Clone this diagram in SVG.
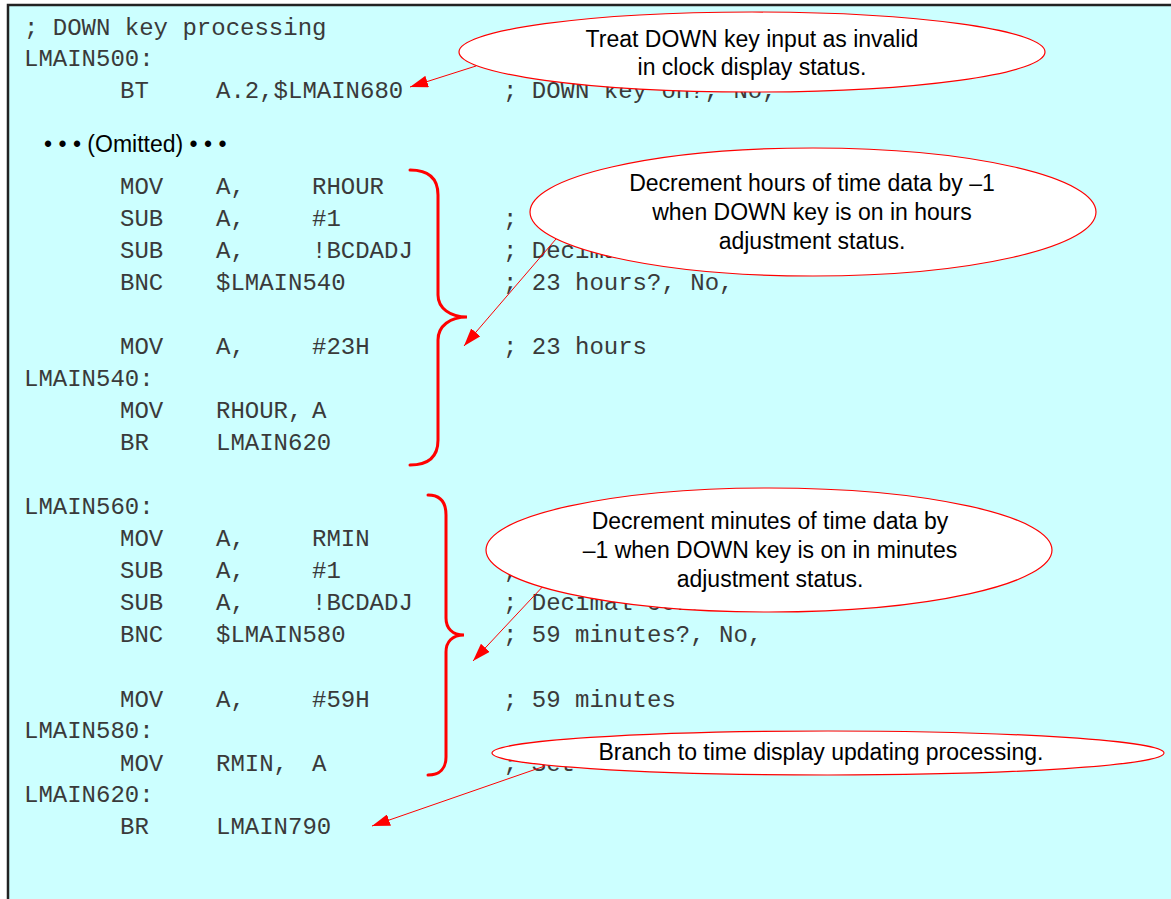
<svg xmlns="http://www.w3.org/2000/svg" width="1171" height="899" viewBox="0 0 1171 899">
<style>
.code{font-family:"Liberation Mono","Courier New",monospace;font-size:24px;fill:#3a3a3a;}
.note{font-family:"Liberation Sans",Arial,Helvetica,sans-serif;font-size:23px;fill:#000;text-anchor:middle;}
.om{font-family:"Liberation Sans",Arial,Helvetica,sans-serif;font-size:23px;fill:#000;}
.bubble{fill:#fff;stroke:#f00;stroke-width:1.2;}
.conn{stroke:#f00;stroke-width:1;fill:none;marker-end:url(#ah);}
.brace{stroke:#f00;stroke-width:3;fill:none;stroke-linecap:round;}
</style>
<defs>
<marker id="ah" viewBox="0 0 18 12" refX="18" refY="6" markerWidth="18" markerHeight="12" markerUnits="userSpaceOnUse" orient="auto">
<path d="M0,0 L18,6 L0,12 z" fill="#f00"/>
</marker>
</defs>
<rect x="8" y="5" width="1200" height="950" fill="#CCFFFF" stroke="#222" stroke-width="2.5"/>

<g id="code">
<text class="code" x="24" y="35">; DOWN key processing</text>
<text class="code" x="24" y="66">LMAIN500:</text>
<text class="code" y="98"><tspan x="120">BT</tspan><tspan x="216">A.2,$LMAIN680</tspan><tspan x="503">; DOWN key on?, No,</tspan></text>
<text class="om" x="44" y="152">• • • (Omitted) • • •</text>
<text class="code" y="194"><tspan x="120">MOV</tspan><tspan x="216">A,</tspan><tspan x="312">RHOUR</tspan></text>
<text class="code" y="226"><tspan x="120">SUB</tspan><tspan x="216">A,</tspan><tspan x="312">#1</tspan><tspan x="503">; –1</tspan></text>
<text class="code" y="258"><tspan x="120">SUB</tspan><tspan x="216">A,</tspan><tspan x="312">!BCDADJ</tspan><tspan x="503">; Decimal</tspan></text>
<text class="code" y="290"><tspan x="120">BNC</tspan><tspan x="216">$LMAIN540</tspan><tspan x="503">; 23 hours?, No,</tspan></text>
<text class="code" y="354"><tspan x="120">MOV</tspan><tspan x="216">A,</tspan><tspan x="312">#23H</tspan><tspan x="503">; 23 hours</tspan></text>
<text class="code" x="24" y="386">LMAIN540:</text>
<text class="code" y="418"><tspan x="120">MOV</tspan><tspan x="216">RHOUR,</tspan><tspan x="312">A</tspan></text>
<text class="code" y="450"><tspan x="120">BR</tspan><tspan x="216">LMAIN620</tspan></text>
<text class="code" x="24" y="514">LMAIN560:</text>
<text class="code" y="546"><tspan x="120">MOV</tspan><tspan x="216">A,</tspan><tspan x="312">RMIN</tspan></text>
<text class="code" y="578"><tspan x="120">SUB</tspan><tspan x="216">A,</tspan><tspan x="312">#1</tspan><tspan x="503">; –1</tspan></text>
<text class="code" y="610"><tspan x="120">SUB</tspan><tspan x="216">A,</tspan><tspan x="312">!BCDADJ</tspan><tspan x="503">; Decimal correction</tspan></text>
<text class="code" y="642"><tspan x="120">BNC</tspan><tspan x="216">$LMAIN580</tspan><tspan x="503">; 59 minutes?, No,</tspan></text>
<text class="code" y="707"><tspan x="120">MOV</tspan><tspan x="216">A,</tspan><tspan x="312">#59H</tspan><tspan x="503">; 59 minutes</tspan></text>
<text class="code" x="24" y="738">LMAIN580:</text>
<text class="code" y="771"><tspan x="120">MOV</tspan><tspan x="216">RMIN,</tspan><tspan x="312">A</tspan><tspan x="503">; Set</tspan></text>
<text class="code" x="24" y="802">LMAIN620:</text>
<text class="code" y="834"><tspan x="120">BR</tspan><tspan x="216">LMAIN790</tspan></text>
</g>

<g id="braces">
<path id="brace-hours" class="brace" d="M410,170 C430,170 438,180 438,195 L438,295 C438,308 450,317 467,317 C450,317 438,326 438,340 L438,440 C438,455 430,465 410,465"/>
<path id="brace-minutes" class="brace" d="M428,495 C440,495 446,502 446,515 L446,618 C446,628 452,635 464,635 C452,635 446,642 446,652 L446,757 C446,768 440,775 428,775"/>
</g>

<g id="connectors">
<line class="conn" x1="476" y1="66" x2="410" y2="87"/>
<line class="conn" x1="562" y1="232" x2="464" y2="346"/>
<line class="conn" x1="547" y1="582" x2="473" y2="661"/>
<line class="conn" x1="545" y1="766" x2="372" y2="826"/>
</g>

<g id="note-invalid">
<ellipse class="bubble" cx="752" cy="52" rx="293" ry="40"/>
<text class="note" x="752" y="47">Treat DOWN key input as invalid</text>
<text class="note" x="752" y="75">in clock display status.</text>
</g>

<g id="note-hours">
<ellipse class="bubble" cx="813" cy="212" rx="283" ry="64"/>
<text class="note" x="812" y="191">Decrement hours of time data by –1</text>
<text class="note" x="812" y="220">when DOWN key is on in hours</text>
<text class="note" x="812" y="249">adjustment status.</text>
</g>

<g id="note-minutes">
<ellipse class="bubble" cx="769" cy="550" rx="283" ry="62"/>
<text class="note" x="770" y="529">Decrement minutes of time data by</text>
<text class="note" x="770" y="558">–1 when DOWN key is on in minutes</text>
<text class="note" x="770" y="587">adjustment status.</text>
</g>

<g id="note-branch">
<ellipse class="bubble" cx="828" cy="753" rx="336" ry="22"/>
<text class="note" x="821" y="760">Branch to time display updating processing.</text>
</g>
</svg>
